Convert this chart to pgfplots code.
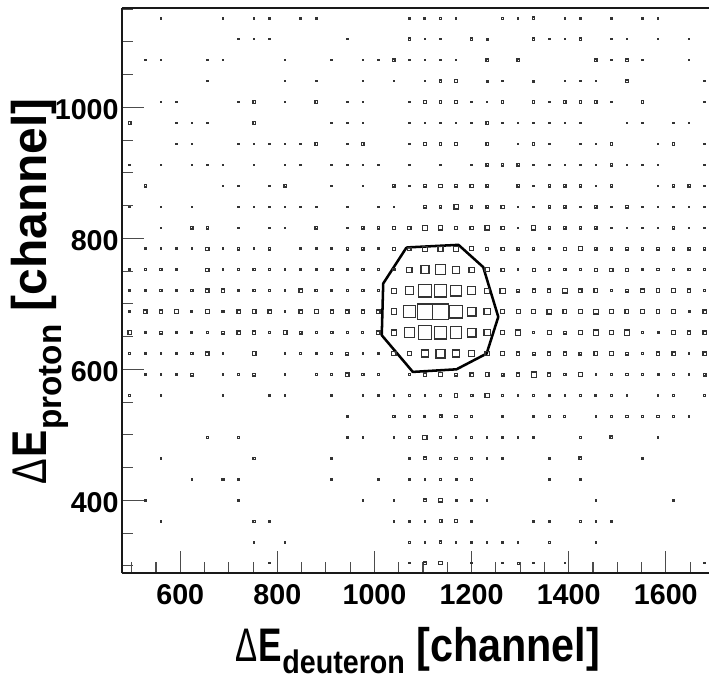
\documentclass[border=0pt]{standalone}
\usepackage{fontspec}
\setmainfont{Liberation Sans}
\usepackage{graphicx}
\usepackage{pgfplots}
\pgfplotsset{compat=1.18}
\newcommand\lbl[2][-9pt]{\bfseries\fontsize{31}{31}\selectfont{\mdseries\scalebox{.8}[1]{Δ}}\kern1pt\scalebox{.85}[1]{E}\raisebox{#1}{\fontsize{21.5}{21.5}\selectfont #2} [channel]}
\begin{document}
\begin{tikzpicture}[x=1pt,y=1pt]
\path[use as bounding box] (-91.5,-78.5) rectangle (440.25,430);
\begin{axis}[
  at={(0,0)},anchor=south west,
  scale only axis,width=440.25pt,height=424pt,
  xmin=480,xmax=1689,ymin=288.5,ymax=1151.6,
  axis x line=box,axis y line*=left,
  axis line style={-,line width=1.6pt,black!90},
  xtick={600,800,1000,1200,1400,1600},
  ytick={400,600,800,1000},
  minor xtick={500,550,650,700,750,850,900,950,1050,1100,1150,1250,1300,1350,1450,1500,1550,1650},
  minor ytick={300,350,450,500,550,650,700,750,850,900,950,1050,1100,1150},
  xtick pos=bottom,ytick pos=left,tick align=inside,
  major tick length=16.5pt,minor tick length=8.25pt,
  tick style={line width=0.8pt,black!70},
  /pgf/number format/1000 sep={},
  /pgf/number format/assume math mode=true,
  tick label style={font=\bfseries\fontsize{21.5}{21.5}\selectfont},
  xticklabel style={yshift=-5pt},
  yticklabel style={xshift=1pt,yshift=-2pt},
  clip=false,
  xlabel={\scalebox{1}[1.14]{\lbl[-8pt]{deuteron}}},
  xlabel style={at={(axis description cs:0.504,-0.136)},anchor=center,inner sep=0pt},
  ylabel={\scalebox{1.16}[1.18]{\lbl{proton}}},
  ylabel style={at={(axis description cs:-0.14,0.499)},anchor=center,inner sep=0pt},
]
\addplot[scatter,only marks,mark=square,
  scatter/use mapped color={draw=black!80},
  mark options={line width=0.9pt},
  visualization depends on={\thisrowno{2} \as \s},
  scatter/@pre marker code/.append style={/tikz/mark size={\s*0.35pt+0.17pt}},
] table[row sep=\\,header=false,x index=0,y index=1] {
560 1136 1\\ 688 1136 1\\ 752 1136 1\\ 784 1136 1\\ 848 1136 1\\ 880 1136 1\\ 1072 1136 1\\ 1104 1136 1.5\\ 1136 1136 1.5\\ 1168 1136 1\\ 1264 1136 1.5\\ 1296 1136 1\\ 1328 1136 2\\ 1392 1136 1\\ 1424 1136 1\\ 1488 1136 1\\ 1552 1136 1\\ 1584 1136 1\\
720 1104 1\\ 752 1104 1\\ 784 1104 1\\ 944 1104 1\\ 1072 1104 2\\ 1104 1104 1\\ 1136 1104 1\\ 1200 1104 2\\ 1232 1104 1.5\\ 1328 1104 2\\ 1360 1104 1\\ 1392 1104 1\\ 1424 1104 2\\ 1488 1104 1\\ 1520 1104 1\\ 1584 1104 1\\ 1648 1104 1\\
528 1072 1\\ 560 1072 1\\ 656 1072 1\\ 688 1072 1\\ 816 1072 1\\ 912 1072 1\\ 976 1072 1\\ 1008 1072 1\\ 1040 1072 2\\ 1072 1072 1\\ 1104 1072 1\\ 1136 1072 1\\ 1168 1072 1\\ 1232 1072 2\\ 1296 1072 2\\ 1456 1072 2\\ 1488 1072 1\\ 1520 1072 2\\ 1552 1072 1\\ 1648 1072 1\\
656 1040 1\\ 816 1040 1\\ 880 1040 1\\ 976 1040 1\\ 1040 1040 1\\ 1104 1040 1\\ 1136 1040 2\\ 1168 1040 3\\ 1232 1040 1.5\\ 1264 1040 1\\ 1328 1040 1.5\\ 1392 1040 1\\ 1424 1040 1\\ 1456 1040 1\\ 1520 1040 2\\ 1680 1040 1\\
560 1008 1\\ 592 1008 1\\ 720 1008 1\\ 752 1008 2\\ 816 1008 1\\ 880 1008 2\\ 944 1008 1\\ 976 1008 1\\ 1072 1008 1\\ 1104 1008 2\\ 1136 1008 2\\ 1168 1008 2\\ 1200 1008 1\\ 1232 1008 1\\ 1264 1008 2\\ 1328 1008 2\\ 1360 1008 1\\ 1392 1008 2\\ 1424 1008 2\\ 1456 1008 2\\ 1488 1008 1\\ 1552 1008 2\\ 1680 1008 1\\
496 976 2\\ 592 976 1\\ 624 976 1\\ 656 976 1\\ 752 976 2\\ 912 976 1\\ 944 976 1\\ 976 976 1\\ 1072 976 1\\ 1104 976 1\\ 1136 976 1\\ 1168 976 1\\ 1200 976 1\\ 1232 976 2\\ 1264 976 1\\ 1296 976 1\\ 1328 976 1\\ 1360 976 1\\ 1392 976 1\\ 1424 976 1\\ 1520 976 1\\ 1552 976 1\\ 1616 976 1\\ 1648 976 1\\
592 944 1\\ 624 944 1\\ 720 944 1\\ 752 944 1\\ 784 944 1\\ 816 944 1\\ 848 944 1\\ 880 944 2\\ 944 944 1\\ 976 944 2\\ 1072 944 1\\ 1104 944 2\\ 1136 944 2\\ 1168 944 3\\ 1232 944 2\\ 1296 944 1\\ 1328 944 2\\ 1360 944 1\\ 1424 944 1\\ 1456 944 1\\ 1488 944 2\\ 1584 944 1\\ 1616 944 2\\ 1680 944 1\\
496 912 1\\ 560 912 1\\ 624 912 1\\ 656 912 1\\ 688 912 1\\ 752 912 1\\ 816 912 1\\ 848 912 1\\ 912 912 1\\ 944 912 1\\ 976 912 1\\ 1008 912 1\\ 1072 912 1\\ 1136 912 1\\ 1200 912 1\\ 1232 912 2\\ 1264 912 2\\ 1296 912 2\\ 1328 912 1\\ 1360 912 1\\ 1392 912 1\\ 1424 912 1\\ 1456 912 1\\ 1488 912 2\\ 1520 912 1\\ 1552 912 1\\ 1584 912 1\\ 1680 912 1\\
528 880 2\\ 688 880 1\\ 720 880 1\\ 784 880 1\\ 816 880 2\\ 912 880 1\\ 976 880 1\\ 1040 880 2\\ 1072 880 1\\ 1104 880 2\\ 1136 880 3\\ 1168 880 2\\ 1200 880 3\\ 1232 880 2\\ 1296 880 2\\ 1328 880 1\\ 1360 880 2\\ 1392 880 2\\ 1424 880 2\\ 1456 880 1\\ 1488 880 2\\ 1584 880 1\\ 1616 880 2\\ 1648 880 2\\ 1680 880 1\\
496 848 1\\ 560 848 1\\ 624 848 1\\ 720 848 1\\ 752 848 1\\ 784 848 1\\ 816 848 1\\ 848 848 1\\ 880 848 1\\ 944 848 1\\ 1008 848 1\\ 1040 848 1\\ 1104 848 2\\ 1136 848 2\\ 1168 848 4\\ 1200 848 2\\ 1232 848 2\\ 1264 848 3\\ 1296 848 1\\ 1328 848 1\\ 1360 848 2\\ 1392 848 2\\ 1424 848 1\\ 1456 848 2\\ 1488 848 1\\ 1520 848 2\\ 1552 848 1\\ 1584 848 1\\ 1616 848 1\\ 1648 848 1\\ 1680 848 1\\
560 816 1\\ 624 816 2\\ 656 816 2\\ 720 816 1\\ 784 816 1\\ 816 816 1\\ 880 816 2\\ 944 816 1\\ 976 816 2\\ 1008 816 2\\ 1040 816 3\\ 1072 816 3\\ 1104 816 5\\ 1136 816 4\\ 1168 816 3\\ 1200 816 3\\ 1232 816 4\\ 1264 816 3\\ 1296 816 1\\ 1328 816 4\\ 1360 816 2\\ 1392 816 2\\ 1424 816 2\\ 1456 816 2\\ 1488 816 1\\ 1520 816 1\\ 1552 816 1\\ 1584 816 1\\ 1616 816 2\\ 1648 816 1\\ 1680 816 1\\
528 784 1\\ 560 784 1\\ 592 784 1\\ 624 784 1\\ 656 784 3\\ 688 784 1\\ 720 784 2\\ 752 784 1\\ 784 784 2\\ 848 784 1\\ 880 784 1\\ 912 784 1\\ 944 784 2\\ 976 784 2\\ 1008 784 1\\ 1040 784 3\\ 1072 784 3\\ 1104 784 5\\ 1136 784 5\\ 1168 784 5\\ 1200 784 4\\ 1232 784 2.5\\ 1264 784 3\\ 1296 784 2\\ 1328 784 2\\ 1360 784 1\\ 1392 784 3\\ 1424 784 4\\ 1456 784 2\\ 1488 784 2\\ 1520 784 2\\ 1552 784 2\\ 1584 784 2\\ 1616 784 2\\ 1648 784 2\\ 1680 784 2\\
496 752 1\\ 528 752 2\\ 560 752 2\\ 592 752 1\\ 656 752 3\\ 688 752 1\\ 720 752 2\\ 752 752 2\\ 784 752 2\\ 816 752 1\\ 848 752 1\\ 880 752 1\\ 912 752 2\\ 944 752 1\\ 976 752 2\\ 1008 752 2\\ 1040 752 2\\ 1072 752 5\\ 1104 752 8\\ 1136 752 10\\ 1168 752 7\\ 1200 752 5\\ 1232 752 4\\ 1264 752 3\\ 1296 752 1\\ 1328 752 2.5\\ 1360 752 2\\ 1392 752 2\\ 1424 752 2\\ 1456 752 3\\ 1488 752 3\\ 1520 752 3\\ 1552 752 1\\ 1584 752 2\\ 1616 752 2\\ 1648 752 2\\ 1680 752 2\\
496 720 1\\ 528 720 1\\ 560 720 2\\ 592 720 1\\ 624 720 2\\ 656 720 3\\ 688 720 3\\ 720 720 1\\ 752 720 2\\ 784 720 2\\ 816 720 1\\ 848 720 3\\ 880 720 2\\ 912 720 1\\ 944 720 2\\ 976 720 2\\ 1008 720 2\\ 1040 720 5\\ 1072 720 8\\ 1104 720 13\\ 1136 720 13\\ 1168 720 11\\ 1200 720 8\\ 1232 720 5\\ 1264 720 5\\ 1296 720 2.5\\ 1328 720 3\\ 1360 720 3\\ 1392 720 4.5\\ 1424 720 3\\ 1456 720 3.5\\ 1488 720 1.5\\ 1520 720 2.5\\ 1552 720 3\\ 1584 720 3.5\\ 1616 720 3.5\\ 1648 720 3\\ 1680 720 1.5\\
496 688 1\\ 528 688 3\\ 560 688 3\\ 592 688 4\\ 624 688 1.5\\ 656 688 3.5\\ 688 688 1.5\\ 720 688 3\\ 752 688 3.5\\ 784 688 3\\ 816 688 1\\ 848 688 3\\ 880 688 4\\ 912 688 3\\ 944 688 3\\ 976 688 3\\ 1008 688 3\\ 1040 688 5.5\\ 1072 688 12\\ 1104 688 16\\ 1136 688 16\\ 1168 688 13\\ 1200 688 9\\ 1232 688 6\\ 1264 688 4\\ 1296 688 4\\ 1328 688 3.5\\ 1360 688 4.5\\ 1392 688 3.5\\ 1424 688 3.5\\ 1456 688 4.5\\ 1488 688 3.5\\ 1520 688 3.5\\ 1552 688 3.5\\ 1584 688 3.5\\ 1616 688 3.5\\ 1648 688 1.5\\ 1680 688 3\\
496 656 3.5\\ 528 656 1\\ 560 656 2.5\\ 592 656 1\\ 624 656 1.5\\ 656 656 1.5\\ 688 656 2.5\\ 720 656 3\\ 752 656 3\\ 784 656 1.5\\ 816 656 3.5\\ 848 656 2.5\\ 880 656 1.5\\ 912 656 2\\ 944 656 1.5\\ 976 656 1.5\\ 1008 656 3\\ 1040 656 5\\ 1072 656 10\\ 1104 656 14\\ 1136 656 13\\ 1168 656 12\\ 1200 656 9\\ 1232 656 6\\ 1264 656 3.5\\ 1296 656 5\\ 1328 656 2\\ 1360 656 4\\ 1392 656 2.5\\ 1424 656 3.5\\ 1456 656 5\\ 1488 656 4\\ 1520 656 5\\ 1552 656 1.5\\ 1584 656 1.5\\ 1616 656 4\\ 1648 656 3\\ 1680 656 3\\
496 624 1.5\\ 528 624 1\\ 560 624 1\\ 592 624 1\\ 624 624 2\\ 656 624 3\\ 688 624 1\\ 752 624 3.5\\ 816 624 1\\ 848 624 1.5\\ 880 624 1\\ 912 624 1.5\\ 944 624 2.5\\ 976 624 1\\ 1008 624 1\\ 1040 624 4\\ 1072 624 4\\ 1104 624 7\\ 1136 624 9\\ 1168 624 7\\ 1200 624 6\\ 1232 624 4\\ 1264 624 3.5\\ 1296 624 3\\ 1328 624 2.5\\ 1360 624 3\\ 1392 624 3\\ 1424 624 2.5\\ 1456 624 3.5\\ 1488 624 4\\ 1520 624 2.5\\ 1552 624 2\\ 1584 624 3\\ 1616 624 3\\ 1648 624 1\\ 1680 624 3\\
528 592 1\\ 560 592 1\\ 592 592 1\\ 624 592 2.5\\ 688 592 1\\ 720 592 1\\ 752 592 2.5\\ 816 592 1\\ 880 592 1.5\\ 912 592 1.5\\ 944 592 3\\ 976 592 2\\ 1008 592 2\\ 1072 592 1.5\\ 1104 592 3\\ 1136 592 3.5\\ 1168 592 2.5\\ 1200 592 3\\ 1232 592 3.5\\ 1264 592 2.5\\ 1296 592 3\\ 1328 592 5\\ 1360 592 3\\ 1392 592 2\\ 1424 592 4\\ 1456 592 1\\ 1488 592 2\\ 1520 592 2\\ 1552 592 2\\ 1584 592 1.5\\ 1616 592 2\\ 1648 592 1\\ 1680 592 2.5\\
496 560 1.5\\ 560 560 1\\ 688 560 1\\ 784 560 1\\ 816 560 1\\ 912 560 1\\ 976 560 1\\ 1008 560 1\\ 1040 560 1\\ 1072 560 1\\ 1104 560 1\\ 1136 560 1\\ 1168 560 3\\ 1200 560 2.5\\ 1232 560 4\\ 1264 560 2\\ 1296 560 1\\ 1328 560 2\\ 1360 560 1\\ 1392 560 1\\ 1424 560 2\\ 1456 560 1.5\\ 1488 560 1\\ 1520 560 1\\ 1584 560 1\\ 1616 560 1\\ 1680 560 2\\
944 528 1\\ 1040 528 2\\ 1072 528 1\\ 1104 528 1.5\\ 1136 528 2.5\\ 1168 528 2\\ 1200 528 1\\ 1264 528 1\\ 1328 528 1\\ 1360 528 2\\ 1392 528 1.5\\ 1456 528 1\\ 1488 528 2\\ 1520 528 2\\ 1552 528 1\\ 1584 528 2\\ 1616 528 2\\ 1648 528 1\\
656 496 1\\ 720 496 1\\ 944 496 1\\ 976 496 1\\ 1040 496 1\\ 1072 496 1\\ 1104 496 4\\ 1136 496 1.5\\ 1168 496 1\\ 1200 496 1\\ 1232 496 1\\ 1264 496 1\\ 1296 496 1\\ 1328 496 1\\ 1424 496 1.5\\ 1488 496 2.5\\ 1584 496 1\\
560 464 1\\ 752 464 2\\ 912 464 1\\ 1072 464 1\\ 1104 464 2.5\\ 1136 464 2\\ 1168 464 2\\ 1200 464 2\\ 1232 464 1\\ 1264 464 1\\ 1360 464 1\\ 1424 464 2.5\\ 1552 464 1\\
624 432 1\\ 688 432 1.5\\ 720 432 1\\ 912 432 1\\ 1008 432 1\\ 1072 432 1\\ 1104 432 1\\ 1136 432 1.5\\ 1168 432 1.5\\ 1200 432 1.5\\ 1360 432 1\\ 1424 432 1\\
528 400 1\\ 720 400 1\\ 976 400 1\\ 1040 400 1\\ 1104 400 2.5\\ 1136 400 3\\ 1168 400 1.5\\ 1200 400 1\\ 1232 400 1\\ 1456 400 1\\ 1616 400 1\\
560 368 1\\ 752 368 2\\ 784 368 1\\ 1040 368 1\\ 1072 368 1\\ 1104 368 1\\ 1136 368 2.5\\ 1168 368 2.5\\ 1200 368 1\\ 1328 368 1\\ 1360 368 1\\ 1424 368 2\\ 1456 368 1\\ 1488 368 1\\
752 336 1\\ 816 336 1\\ 1072 336 1.5\\ 1104 336 1\\ 1136 336 2\\ 1168 336 1\\ 1200 336 1\\ 1232 336 1\\ 1264 336 1\\ 1296 336 1\\ 1360 336 1.5\\ 1456 336 1\\
784 304 1\\ 1072 304 1\\ 1104 304 2\\ 1136 304 3\\ 1200 304 1\\ 1264 304 1\\ 1296 304 1.5\\ 1328 304 1\\ 1392 304 1\\ 1680 304 1\\
};
\addplot[black,line width=1.9pt,line join=round,mark=none] coordinates {
(1066,786) (1173,790) (1224,756) (1255,680) (1231,624) (1169,600) (1079,596) (1015,652) (1018,731) (1066,786)
};
\end{axis}
\end{tikzpicture}
\end{document}
